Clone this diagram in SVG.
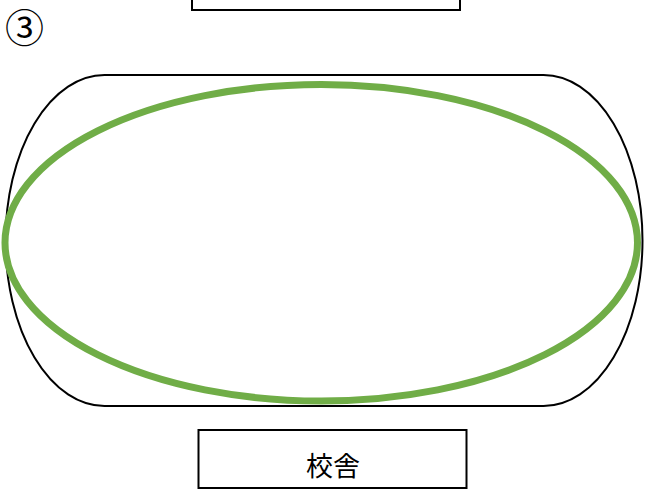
<svg xmlns="http://www.w3.org/2000/svg" width="645" height="490" viewBox="0 0 645 490">
<style>
.box{fill:#fff;stroke:#000;stroke-width:2}
.lbl{font-family:"Noto Sans CJK JP","Noto Sans CJK SC",sans-serif;fill:#000}
</style>
<rect width="645" height="490" fill="#fff"/>
<g id="label3"><text class="lbl" x="5" y="42" font-size="39">③</text></g>
<g id="top-building"><rect class="box" x="192" y="-10" width="268" height="20"/></g>
<g id="track"><rect x="5.5" y="75" width="637" height="331" rx="99" ry="165.5" fill="none" stroke="#000" stroke-width="2"/></g>
<g id="ellipse"><ellipse cx="321.25" cy="242.75" rx="316.25" ry="158.25" fill="none" stroke="#70ad47" stroke-width="7"/></g>
<g id="school"><rect class="box" x="198.5" y="430" width="268" height="58"/><text class="lbl" x="333" y="476" font-size="27" text-anchor="middle">校舎</text></g>
<g id="connectors"/>
</svg>
